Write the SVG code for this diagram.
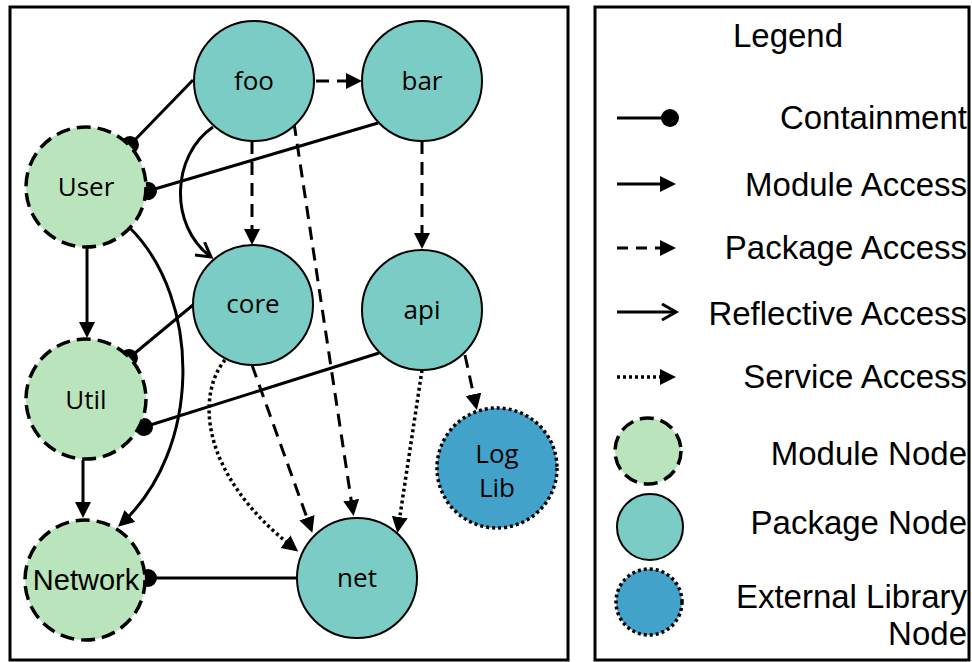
<svg xmlns="http://www.w3.org/2000/svg" width="972" height="662" viewBox="0 0 972 662">
<style>
.frame{fill:#fff;stroke:#000;stroke-width:3}
.mod{fill:#bae4bc;stroke:#000;stroke-width:3.5;stroke-dasharray:14 7}
.pkg{fill:#7bccc4;stroke:#000;stroke-width:2}
.ext{fill:#43a2ca;stroke:#000;stroke-width:3.5;stroke-dasharray:3 3}
.nl{font-family:"Open Sans","Liberation Sans",sans-serif;font-size:26px;text-anchor:middle;fill:#000}
.lg{font-family:"Liberation Sans",Arial,sans-serif;font-size:33px;text-anchor:end;fill:#000}
.e{fill:none;stroke:#000;stroke-width:3}
.dash{stroke-dasharray:13 8}
.dot{stroke-dasharray:3 3;stroke-width:3.5}
</style>
<defs>
<marker id="tri" markerUnits="userSpaceOnUse" markerWidth="18" markerHeight="18" refX="12" refY="8" orient="auto"><path d="M0,0 L16,8 L0,16 z" fill="#000"/></marker>
<marker id="open" markerUnits="userSpaceOnUse" markerWidth="20" markerHeight="20" refX="16" refY="9" orient="auto"><path d="M2,1 L16,9 L2,17" fill="none" stroke="#000" stroke-width="3"/></marker>
<marker id="ball" markerUnits="userSpaceOnUse" markerWidth="20" markerHeight="20" refX="10" refY="10" orient="auto"><circle cx="10" cy="10" r="9" fill="#000"/></marker>
</defs>
<rect class="frame" x="10" y="7" width="558" height="653"/>
<rect class="frame" x="595" y="7" width="374" height="653"/>
<g id="connectors">
<line class="e" x1="193" y1="80" x2="130" y2="145" marker-end="url(#ball)"/>
<line class="e" x1="378" y1="123" x2="148" y2="191" marker-end="url(#ball)"/>
<path class="e" d="M213,127 C172,155 168,225 211,257" marker-end="url(#open)"/>
<line class="e dash" x1="252" y1="141" x2="252" y2="241" marker-end="url(#tri)"/>
<line class="e dash" x1="316" y1="81" x2="358" y2="81" marker-end="url(#tri)"/>
<line class="e dash" x1="294" y1="123" x2="353" y2="512" marker-end="url(#tri)"/>
<line class="e dash" x1="422" y1="141" x2="422" y2="245" marker-end="url(#tri)"/>
<line class="e" x1="87" y1="248" x2="87" y2="334" marker-end="url(#tri)"/>
<path class="e" d="M130,228 C202,300 202,450 121,524" marker-end="url(#tri)"/>
<line class="e" x1="193" y1="305" x2="129" y2="358" marker-end="url(#ball)"/>
<line class="e" x1="379" y1="353" x2="144" y2="427" marker-end="url(#ball)"/>
<line class="e" x1="83" y1="460" x2="83" y2="514" marker-end="url(#tri)"/>
<path class="e dot" d="M225,360 C198,392 196,472 295,549" marker-end="url(#tri)"/>
<line class="e dash" x1="252" y1="365" x2="311" y2="529" marker-end="url(#tri)"/>
<line class="e dot" x1="422" y1="370" x2="398" y2="529" marker-end="url(#tri)"/>
<line class="e dash" x1="465" y1="355" x2="476" y2="406" marker-end="url(#tri)"/>
<line class="e" x1="297" y1="578" x2="148" y2="578" marker-end="url(#ball)"/>
</g>
<g id="foo"><circle class="pkg" cx="254" cy="81" r="60"/><text class="nl" x="254" y="90">foo</text></g>
<g id="bar"><circle class="pkg" cx="422" cy="81" r="60"/><text class="nl" x="422" y="90">bar</text></g>
<g id="User"><circle class="mod" cx="86" cy="187" r="60"/><text class="nl" x="86" y="196">User</text></g>
<g id="core"><circle class="pkg" cx="253" cy="305" r="60"/><text class="nl" x="253" y="313">core</text></g>
<g id="api"><circle class="pkg" cx="422" cy="310" r="60"/><text class="nl" x="422" y="319">api</text></g>
<g id="Util"><circle class="mod" cx="86" cy="399" r="60"/><text class="nl" x="86" y="409">Util</text></g>
<g id="Network"><circle class="mod" cx="85" cy="580" r="60"/><text x="86" y="590" style="font-family:'Liberation Sans',Arial,sans-serif;font-size:29px;text-anchor:middle">Network</text></g>
<g id="net"><circle class="pkg" cx="357" cy="578" r="60"/><text class="nl" x="357" y="587">net</text></g>
<g id="LogLib"><circle class="ext" cx="497" cy="468" r="60"/><text class="nl" x="497" y="463">Log</text><text class="nl" x="497" y="497">Lib</text></g>
<g id="legend">
<text x="788" y="47" style="font-family:'Liberation Sans',Arial,sans-serif;font-size:33px;text-anchor:middle">Legend</text>
<line class="e" x1="617" y1="118" x2="670" y2="118" marker-end="url(#ball)"/>
<text class="lg" x="967" y="129">Containment</text>
<line class="e" x1="617" y1="184" x2="672" y2="184" marker-end="url(#tri)"/>
<text class="lg" x="967" y="196">Module Access</text>
<line class="e" x1="617" y1="248" x2="672" y2="248" style="stroke-dasharray:11 8" marker-end="url(#tri)"/>
<text class="lg" x="967" y="259">Package Access</text>
<line class="e" x1="617" y1="312" x2="676" y2="312" marker-end="url(#open)"/>
<text class="lg" x="967" y="325">Reflective Access</text>
<line class="e dot" x1="617" y1="377" x2="672" y2="377" marker-end="url(#tri)"/>
<text class="lg" x="967" y="388">Service Access</text>
<circle class="mod" cx="648" cy="451" r="33"/>
<text class="lg" x="967" y="465">Module Node</text>
<circle class="pkg" cx="650" cy="527" r="33"/>
<text class="lg" x="967" y="534">Package Node</text>
<circle class="ext" cx="649" cy="602" r="33"/>
<text class="lg" x="967" y="608">External Library</text>
<text class="lg" x="967" y="645">Node</text>
</g>
</svg>
